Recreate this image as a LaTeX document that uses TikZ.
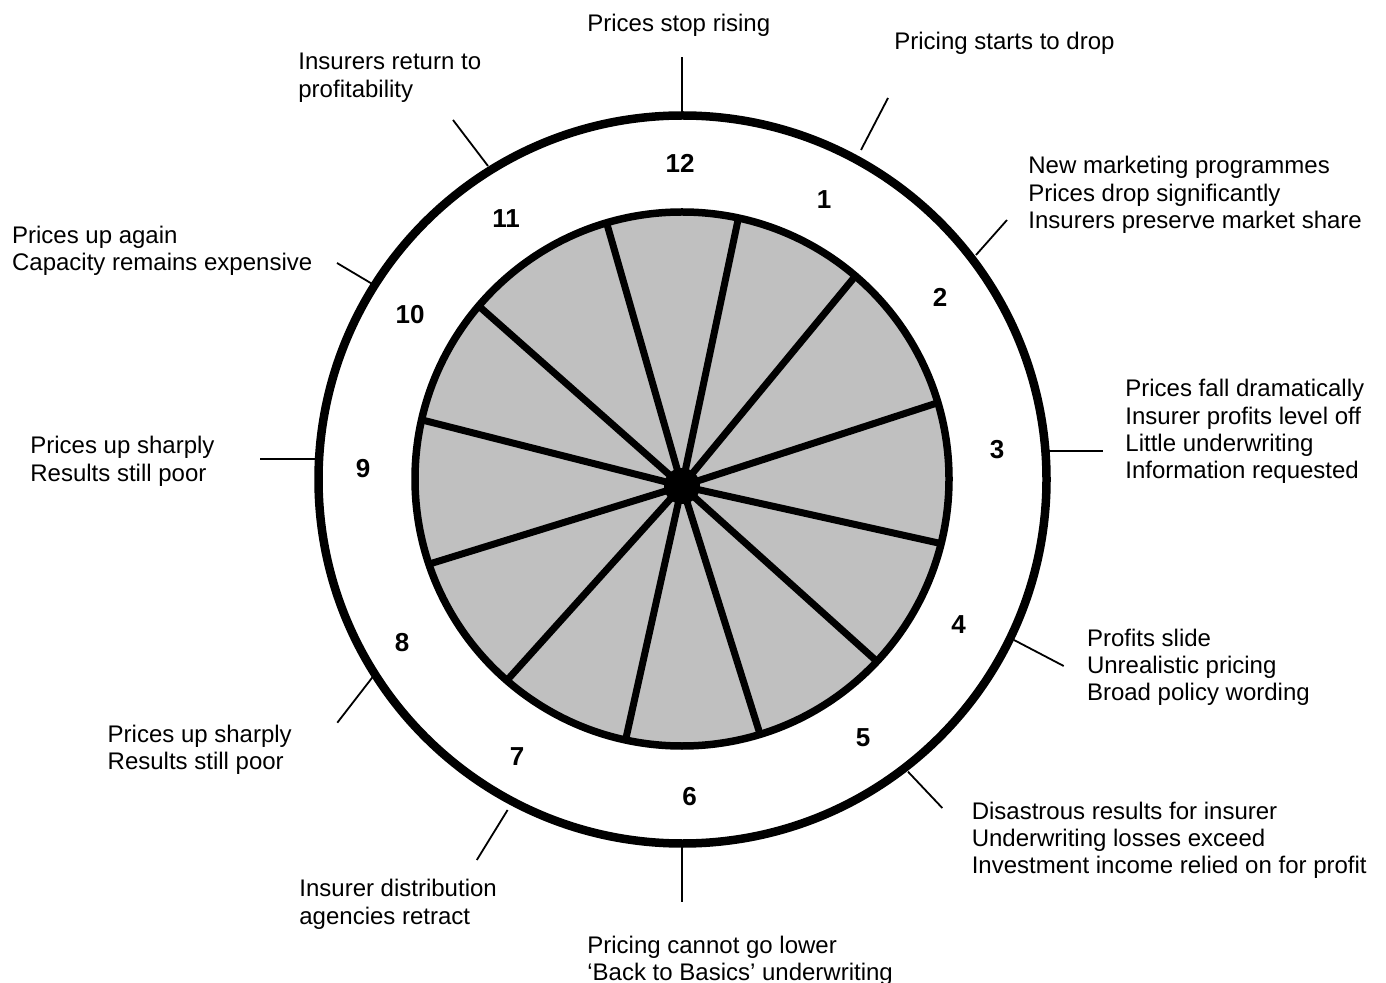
\documentclass[tikz,border=0pt]{standalone}
\usepackage{fontspec}
\setmainfont{Liberation Sans}
\usetikzlibrary{calc}
\definecolor{wheelgray}{RGB}{192,192,192}
\begin{document}
\begin{tikzpicture}[x=0.5pt,y=-0.5pt,
  lbl/.style={anchor=base west, inner sep=0pt, font=\fontsize{12}{13.7}\selectfont},
  num/.style={inner sep=0pt, font=\fontsize{13}{15}\selectfont\bfseries},
  leader/.style={line width=0.9pt},
  rim/.style={line width=4.25pt},
  innerrim/.style={line width=3.75pt},
  spoke/.style={line width=3.5pt}]
\useasboundingbox[fill=white] (0,0) rectangle (1386,983);
\coordinate (oc) at (682.5,479.5);
\coordinate (ic) at (682,479);
\coordinate (hub) at (682,486);

% wheel
\fill[wheelgray] (ic) circle[radius=133.5pt];
\foreach \a [count=\i] in {16.6,49.5,77.8,106.4,139.6,167.2,198.6,229,257.8,287,316.9,346}{
  \coordinate (s\i) at ($(ic)+(\a:133.5pt)$);
  \draw[spoke] (hub) -- (s\i);
}
\fill (hub) circle[radius=9pt];
\draw[innerrim] (ic) circle[radius=133.5pt];
\draw[rim] (oc) circle[radius=182pt];

% numbers
\node[num] (n12) at (680,163) {12};
\node[num] (n1) at (824,200) {1};
\node[num] (n2) at (940,297) {2};
\node[num] (n3) at (997,450) {3};
\node[num] (n4) at (958.7,625) {4};
\node[num] (n5) at (863,738) {5};
\node[num] (n6) at (689.7,797) {6};
\node[num] (n7) at (517,757) {7};
\node[num] (n8) at (402,643) {8};
\node[num] (n9) at (363,469) {9};
\node[num] (n10) at (410,315) {10};
\node[num] (n11) at (506,219) {11};

% leader ticks
\coordinate (a12) at (682,114);   \coordinate (b12) at (682,57);
\coordinate (a1) at (861,150);    \coordinate (b1) at (888,98);
\coordinate (a2) at (976,255);    \coordinate (b2) at (1007,220);
\coordinate (a3) at (1046,451);   \coordinate (b3) at (1103,451);
\coordinate (a4) at (1014,640);   \coordinate (b4) at (1063.7,666);
\coordinate (a5) at (908,771.7);  \coordinate (b5) at (942.3,808);
\coordinate (a6) at (682,845);    \coordinate (b6) at (682,902);
\coordinate (a7) at (507.6,810);  \coordinate (b7) at (476.8,860);
\coordinate (a8) at (376,672.7);  \coordinate (b8) at (337.3,722.7);
\coordinate (a9) at (319,459.3);  \coordinate (b9) at (260,459.3);
\coordinate (a10) at (374,285);   \coordinate (b10) at (337,263);
\coordinate (a11) at (488,166);   \coordinate (b11) at (453,120);
\foreach \k in {1,...,12}{\draw[leader] (a\k) -- (b\k);}

% labels
\node[lbl] (t12) at (587,31.5) {Prices stop rising};
\node[lbl] (t1) at (894,50) {Pricing starts to drop};
\node[lbl] (t11) at (298,70) {\begin{tabular}[t]{@{}l@{}}Insurers return to\\profitability\end{tabular}};
\node[lbl] (t2) at (1028,174) {\begin{tabular}[t]{@{}l@{}}New marketing programmes\\Prices drop significantly\\Insurers preserve market share\end{tabular}};
\node[lbl] (t10) at (11.7,243.3) {\begin{tabular}[t]{@{}l@{}}Prices up again\\Capacity remains expensive\end{tabular}};
\node[lbl] (t3) at (1125,396.7) {\begin{tabular}[t]{@{}l@{}}Prices fall dramatically\\Insurer profits level off\\Little underwriting\\Information requested\end{tabular}};
\node[lbl] (t9) at (30,454) {\begin{tabular}[t]{@{}l@{}}Prices up sharply\\Results still poor\end{tabular}};
\node[lbl] (t4) at (1086.6,646) {\begin{tabular}[t]{@{}l@{}}Profits slide\\Unrealistic pricing\\Broad policy wording\end{tabular}};
\node[lbl] (t8) at (107.3,742.3) {\begin{tabular}[t]{@{}l@{}}Prices up sharply\\Results still poor\end{tabular}};
\node[lbl] (t5) at (971.4,819) {\begin{tabular}[t]{@{}l@{}}Disastrous results for insurer\\Underwriting losses exceed\\Investment income relied on for profit\end{tabular}};
\node[lbl] (t7) at (299,896.7) {\begin{tabular}[t]{@{}l@{}}Insurer distribution\\agencies retract\end{tabular}};
\node[lbl] (t6) at (587,953.3) {\begin{tabular}[t]{@{}l@{}}Pricing cannot go lower\\‘Back to Basics’ underwriting\end{tabular}};
\end{tikzpicture}
\end{document}
